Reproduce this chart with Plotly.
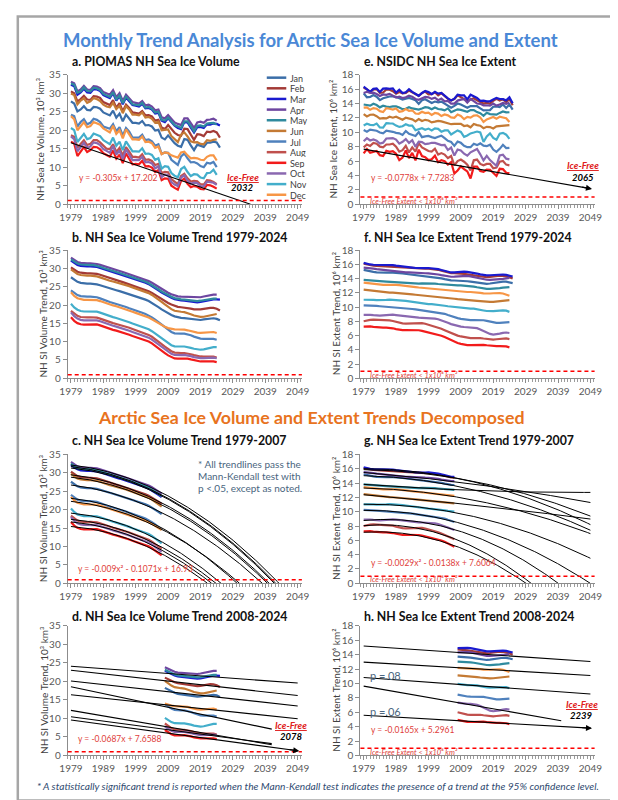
import numpy as np
import plotly.graph_objects as go

# ---------------- data (read/estimated from the picture) ----------------
MONTHS = ["Jan", "Feb", "Mar", "Apr", "May", "Jun", "Jul", "Aug", "Sep", "Oct", "Nov", "Dec"]
COLORS = ["#3B6EA8", "#A33A36", "#1A1ACF", "#6E46A0", "#2F8A9E", "#C47A34",
          "#4F81BD", "#C0504D", "#F21B1B", "#8A68B0", "#43AECB", "#F79646"]
FIRST_YEAR = 1979
TICK_YEARS = [1979, 1989, 1999, 2009, 2019, 2029, 2039, 2049]

# PIOMAS volume, 10^3 km^3 (Jan-Mar include 2025)
VOL_JAN = [27.8,27.2,25.1,25.6,26.5,25.5,25.4,26.3,26.2,25.8, 24.8,24.5,24.0,25.3,23.4,24.5,22.4,24.2,23.2,22.0,
           22.0,21.8,22.5,21.3,21.4,21.0,19.9,20.1,18.0,17.5, 18.6,17.5,16.5,15.8,15.5,17.6,17.4,15.9,14.6,16.1,
           15.9,15.5,16.6,16.6,16.9,16.7,15.3]
VOL_FEB = [30.5,30.0,27.8,28.4,29.3,28.3,28.2,29.2,29.1,28.7, 27.6,27.3,26.8,28.1,26.1,27.3,25.1,26.9,26.0,24.8,
           24.7,24.5,25.2,24.0,24.1,23.7,22.6,22.8,20.7,20.3, 21.4,20.3,19.3,18.7,18.5,20.4,20.3,18.8,17.4,18.9,
           18.8,18.4,19.6,19.5,19.8,19.4,18.0]
VOL_MAR = [32.3,31.9,29.6,30.2,31.2,30.2,30.1,31.1,31.0,30.6, 29.5,29.2,28.7,30.0,28.0,29.2,27.0,28.8,27.9,26.8,
           26.6,26.4,27.1,25.9,26.0,25.6,24.5,24.7,22.6,22.2, 23.2,22.2,21.2,20.6,20.3,22.2,22.1,20.7,19.4,20.8,
           20.9,20.6,21.6,21.5,21.8,21.7,21.3]
VOL_APR = [33.1,32.7,30.5,31.0,32.0,31.0,30.9,31.9,31.8,31.4, 30.3,30.0,29.6,30.8,28.9,30.0,27.9,29.6,28.7,27.6,
           27.4,27.2,27.9,26.7,26.9,26.4,25.4,25.6,23.5,23.2, 24.1,23.1,22.1,21.7,21.4,23.2,23.2,21.9,20.6,22.1,
           22.3,22.0,22.8,22.9,23.1,22.6]
VOL_MAY = [32.6,32.3,30.1,30.5,31.6,30.6,30.5,31.5,31.3,30.9, 29.8,29.4,29.0,30.3,28.4,29.4,27.3,29.1,28.2,27.0,
           26.9,26.7,27.4,26.1,26.3,25.8,24.8,25.0,22.8,22.6, 23.4,22.4,21.4,21.0,20.6,22.4,22.4,21.1,19.7,21.2,
           21.3,21.0,21.8,21.9,22.0,21.5]
VOL_JUN = [29.9,29.5,27.0,28.0,28.6,27.4,27.8,28.7,28.4,27.9, 26.9,26.4,26.2,27.4,25.7,26.6,24.6,26.5,25.6,24.2,
           24.2,24.0,24.8,23.4,23.6,23.1,22.0,22.3,20.0,20.2, 20.2,18.4,17.5,16.8,18.8,19.4,18.3,17.0,16.7,16.8,
           16.3,16.2,17.3,17.1,17.4,17.5]
VOL_JUL = [24.2,23.8,21.0,22.2,23.0,21.6,22.0,23.1,22.8,22.2, 21.0,20.6,20.4,21.6,19.7,20.8,18.5,20.6,19.6,18.0,
           18.1,18.0,18.8,17.3,17.5,17.0,15.8,16.2,13.6,14.0, 13.9,12.0,11.3,10.6,12.9,13.7,12.4,11.3,11.4,11.0,
           10.3,10.0,11.2,11.0,11.4,10.0]
VOL_AUG = [18.6,18.2,15.3,16.4,17.3,16.0,16.3,17.3,17.3,16.7, 15.7,15.0,14.9,16.2,14.1,15.2,13.1,15.4,14.2,12.8,
           12.8,12.6,13.5,12.0,12.1,11.7,10.6,10.9,8.4,8.7, 8.6,6.8,6.1,5.4,7.6,8.2,7.0,6.1,6.3,6.2,
           5.4,5.3,6.5,6.4,6.0,5.4]
VOL_SEP = [16.9,16.4,13.0,14.2,15.4,14.1,14.6,15.5,15.4,14.8, 13.8,13.3,12.8,14.5,12.3,13.4,11.1,13.7,12.2,10.8,
           10.9,10.8,11.7,10.2,10.3,9.9,8.7,9.2,6.5,7.0, 6.9,5.0,4.4,3.9,6.3,6.9,5.5,4.6,4.9,4.7,
           4.1,4.0,5.2,5.1,4.7,4.2]
VOL_OCT = [18.3,17.6,14.3,15.4,16.6,15.2,15.6,16.7,16.5,16.0, 14.9,14.4,13.9,15.7,13.4,14.5,12.2,14.8,13.3,11.9,
           12.0,11.9,12.8,11.3,11.4,11.0,9.7,10.2,7.3,8.0, 7.8,6.0,5.3,4.9,7.2,7.8,6.4,5.5,5.8,5.7,
           4.9,4.8,6.1,6.0,5.8,5.2]
VOL_NOV = [20.6,20.0,16.8,17.8,19.0,17.6,17.9,19.1,18.8,18.4, 17.3,16.8,16.2,18.0,15.8,16.9,14.6,17.0,15.6,14.3,
           14.3,14.2,15.1,13.6,13.7,13.3,12.0,12.4,9.6,10.3, 10.1,8.4,7.7,7.3,9.5,10.1,8.7,7.6,8.1,8.0,
           7.2,7.0,8.4,8.5,9.3,7.9]
VOL_DEC = [23.8,23.0,20.0,21.0,22.2,20.8,21.1,22.2,21.9,21.5, 20.5,20.0,19.4,21.2,19.0,20.0,17.8,20.2,18.8,17.5,
           17.5,17.4,18.3,16.8,16.9,16.5,15.2,15.6,13.5,14.0, 13.8,13.2,12.9,12.6,14.0,14.2,13.2,12.4,12.5,12.4,
           12.0,11.9,12.8,13.2,13.2,11.8]

# NSIDC extent, 10^6 km^2 (Jan-Mar include 2025)
EXT_JAN = [15.41,14.86,14.91,15.18,14.94,14.47,14.72,14.89,14.97,14.98, 14.91,14.73,14.54,14.67,14.78,14.64,14.46,13.94,14.44,14.59,
           14.27,14.07,14.27,14.17,14.25,13.94,13.69,13.40,13.66,13.99, 13.85,13.64,13.41,13.65,13.67,13.62,13.33,13.05,13.06,13.08,
           13.55,13.59,13.51,13.87,13.38,13.86,13.15]
EXT_FEB = [16.18,15.96,15.60,15.97,16.00,15.48,15.52,15.94,15.91,15.71, 15.36,15.60,15.41,15.47,15.79,15.57,15.33,15.06,15.44,15.65,
           15.28,15.30,15.56,15.13,15.44,15.02,14.64,14.40,14.61,15.13, 14.87,14.65,14.36,14.56,14.72,14.44,14.16,14.00,14.12,13.95,
           14.39,14.64,14.42,14.58,14.20,14.61,13.75]
EXT_MAR = [16.34,16.04,15.63,16.04,16.09,15.61,16.06,16.11,16.05,16.11, 15.50,15.90,15.44,15.55,15.97,15.62,15.35,15.07,15.46,15.74,
           15.58,15.31,15.63,15.37,15.48,15.04,14.71,14.43,14.66,15.22, 15.12,15.14,14.56,15.21,15.04,14.76,14.37,14.40,14.30,14.30,
           14.55,14.78,14.62,14.60,14.43,14.87,14.04]
EXT_APR = [15.45,15.62,15.46,15.51,15.32,15.04,15.26,15.21,15.34,15.09, 14.83,14.96,14.76,14.86,15.07,14.95,14.63,14.52,14.73,14.91,
           14.86,14.64,14.80,14.46,14.68,14.31,14.35,13.99,13.99,14.40, 14.53,14.61,14.12,14.63,14.34,13.99,13.95,13.74,13.75,13.69,
           13.99,13.71,13.86,14.07,13.94,14.12]
EXT_MAY = [13.86,13.73,13.70,13.96,13.78,13.46,13.68,13.57,13.51,13.59, 13.60,13.43,13.21,13.26,13.49,13.31,13.28,13.15,13.30,13.48,
           13.42,13.19,13.45,13.23,13.18,13.04,13.32,12.78,13.00,13.19, 13.11,12.99,12.85,13.08,13.09,12.80,12.64,12.28,12.72,12.52,
           12.45,12.44,12.69,12.89,12.76,12.78]
EXT_JUN = [12.53,12.20,12.43,12.46,12.23,11.89,11.96,11.93,12.16,12.02, 12.15,11.91,11.75,12.01,11.90,11.79,11.52,11.84,11.56,11.73,
           11.63,11.37,11.47,11.59,11.51,11.39,11.21,11.12,11.16,11.20, 11.18,10.87,10.94,10.69,11.14,10.99,10.91,10.57,10.75,10.72,
           10.52,10.81,10.85,10.88,10.89,10.98]
EXT_JUL = [10.31,10.08,10.37,10.33,10.21,9.97,9.85,10.23,10.17,10.06, 9.91,9.85,9.63,10.17,9.78,9.67,9.48,10.02,9.32,9.42,
           9.48,9.32,9.19,9.37,9.53,9.17,8.81,8.65,8.11,8.70, 8.53,8.13,7.92,7.93,8.40,8.21,8.45,8.14,8.06,8.27,
           7.59,7.28,7.69,8.25,7.79,7.84]
EXT_AUG = [7.9,8.3,8.1,8.5,8.4,8.0,7.9,8.3,8.3,8.4, 8.0,7.3,7.5,8.1,7.2,7.9,7.3,8.5,7.9,7.6,
           7.4,7.3,7.7,6.9,7.1,6.9,6.4,6.7,5.4,6.0, 6.2,5.9,5.5,4.7,6.1,6.2,5.6,5.4,5.6,5.6,
           5.0,5.1,5.9,6.0,5.5,5.4]
EXT_SEP = [7.05,7.67,7.14,7.30,7.39,6.81,6.70,7.41,7.28,7.37, 7.01,6.14,6.47,7.47,6.40,7.14,6.08,7.58,6.69,6.54,
           6.12,6.25,6.73,5.83,6.12,5.98,5.50,5.86,4.27,4.69, 5.26,4.87,4.56,3.57,5.21,5.22,4.62,4.51,4.80,4.79,
           4.36,3.92,4.92,4.87,4.37,4.28]
EXT_OCT = [8.75,9.18,8.86,9.00,8.84,8.44,8.55,9.13,9.16,9.19, 8.98,8.41,8.68,9.05,8.52,8.89,7.97,8.68,8.64,8.35,
           8.41,8.54,8.52,8.37,8.21,8.23,7.53,7.87,6.76,7.60, 7.47,7.02,6.74,7.21,7.45,7.67,6.93,6.08,6.71,6.13,
           5.73,5.33,6.77,6.87,6.33,6.23]
EXT_NOV = [10.94,11.18,11.03,10.99,11.21,10.68,10.64,11.28,11.24,11.22, 10.93,10.74,10.84,11.10,10.92,10.92,10.28,10.41,10.56,10.35,
           10.51,10.25,10.55,10.48,10.08,10.25,10.26,9.69,10.02,10.26, 10.05,9.37,9.55,9.84,9.96,10.10,9.98,8.65,9.42,9.84,
           9.22,8.96,9.81,9.91,9.66,9.08]
EXT_DEC = [13.42,13.47,13.12,13.36,13.27,12.93,12.80,13.35,13.27,13.16, 13.31,12.85,12.93,13.22,12.99,13.05,12.61,12.57,12.85,12.66,
           12.74,12.42,12.68,12.59,12.25,12.47,12.35,12.07,12.01,12.46, 12.27,11.82,12.13,12.03,12.31,12.36,12.06,11.43,11.78,11.92,
           12.11,11.87,12.16,12.05,11.94,11.43]

VOLUME = [VOL_JAN, VOL_FEB, VOL_MAR, VOL_APR, VOL_MAY, VOL_JUN, VOL_JUL, VOL_AUG, VOL_SEP, VOL_OCT, VOL_NOV, VOL_DEC]
EXTENT = [EXT_JAN, EXT_FEB, EXT_MAR, EXT_APR, EXT_MAY, EXT_JUN, EXT_JUL, EXT_AUG, EXT_SEP, EXT_OCT, EXT_NOV, EXT_DEC]

SPLIT_YEAR = 2007      # end of first period (c, g)
LAST_FORECAST = 2049
D_FIT_MONTHS = ["May", "Feb", "Jan", "Dec", "Jul", "Oct", "Aug", "Sep"]
D_FIT_END = [2049, 2049, 2049, 2049, 2041, 2041, 2041, 2049]
H_FIT_MONTHS = ["Apr", "Dec", "Nov", "Oct", "Sep"]
H_FIT_END = [2049, 2049, 2049, 2040, 2049]

# ---------------- helpers ----------------
W, H = 618, 800
FONT = "Lato"


def px(xp):
    return xp / W


def py(yp):
    return 1 - yp / H


def years_of(s):
    return np.arange(FIRST_YEAR, FIRST_YEAR + len(s))


def smooth(y, sigma=2.0):
    y = np.asarray(y, float)
    t = np.arange(len(y))
    out = []
    for i in range(len(y)):
        w = np.exp(-0.5 * ((t - i) / sigma) ** 2)
        sw = w.sum()
        mt = (w * t).sum() / sw
        my = (w * y).sum() / sw
        b = (w * (t - mt) * (y - my)).sum() / (w * (t - mt) ** 2).sum()
        out.append(my + b * (i - mt))
    return np.array(out)


fig = go.Figure()

PANELS = {"a": ("x", "y"), "e": ("x2", "y2"), "b": ("x3", "y3"), "f": ("x4", "y4"),
          "c": ("x5", "y5"), "g": ("x6", "y6"), "d": ("x7", "y7"), "h": ("x8", "y8")}
ROWS = [(60.7, 192.3), (239.0, 369.3), (446.7, 577.7), (621.0, 752.7)]
COLS = [(53.0, 293.0), (353.0, 593.0)]
LAYOUT_POS = {"a": (0, 0), "e": (0, 1), "b": (1, 0), "f": (1, 1),
              "c": (2, 0), "g": (2, 1), "d": (3, 0), "h": (3, 1)}
IS_EXTENT = {"a": False, "b": False, "c": False, "d": False, "e": True, "f": True, "g": True, "h": True}


def line(panel, xs, ys, color, width):
    xa, ya = PANELS[panel]
    fig.add_trace(go.Scatter(x=list(xs), y=list(ys), mode="lines", line=dict(color=color, width=width),
                             xaxis=xa, yaxis=ya, showlegend=False, hoverinfo="skip"))


annotations = []
shapes = []


def text(panel, x, y, t, size=9, color="#E0403A", xanchor="left", **kw):
    xa, ya = PANELS[panel]
    annotations.append(dict(x=x, y=y, xref=xa, yref=ya, text=t, showarrow=False, xanchor=xanchor,
                            yanchor="middle", font=dict(family=FONT, size=size, color=color), **kw))


def arrow(panel, x0, y0, x1, y1):
    xa, ya = PANELS[panel]
    annotations.append(dict(x=x1, y=y1, ax=x0, ay=y0, xref=xa, yref=ya, axref=xa, ayref=ya, text="",
                            showarrow=True, arrowhead=2, arrowsize=1.1, arrowwidth=1.1, arrowcolor="#000000"))


# ---------------- a. raw volume ----------------
for i, m in enumerate(MONTHS):
    line("a", years_of(VOLUME[i]), VOLUME[i], COLORS[i], 2.2)
sep = np.array(VOL_SEP)
t = np.arange(1, len(sep) + 1)
k, c0 = np.polyfit(t, sep, 1)
t_zero = -c0 / k
line("a", [FIRST_YEAR, FIRST_YEAR - 1 + t_zero], [k + c0, 0], "#000000", 1.1)

# ---------------- e. raw extent ----------------
for i, m in enumerate(MONTHS):
    line("e", years_of(EXTENT[i]), EXTENT[i], COLORS[i], 2.2)
sep = np.array(EXT_SEP)
t = np.arange(1, len(sep) + 1)
k, c0 = np.polyfit(t, sep, 1)
tend = LAST_FORECAST - FIRST_YEAR + 1
line("e", [FIRST_YEAR, LAST_FORECAST], [k + c0, k * tend + c0], "#000000", 1.1)
arrow("e", LAST_FORECAST - 3, k * (tend - 3) + c0, LAST_FORECAST + 0.5, k * (tend + 0.5) + c0)

# ---------------- b / f. smoothed trend ----------------
SMOOTH_V = [smooth(s) for s in VOLUME]
SMOOTH_E = [smooth(s) for s in EXTENT]
for i in range(12):
    line("b", years_of(VOLUME[i]), SMOOTH_V[i], COLORS[i], 2.2)
    line("f", years_of(EXTENT[i]), SMOOTH_E[i], COLORS[i], 2.2)

# ---------------- c / g. 1979-2007 with quadratic trendlines ----------------
n1 = SPLIT_YEAR - FIRST_YEAR + 1
for panel, smooths, raws in (("c", SMOOTH_V, VOLUME), ("g", SMOOTH_E, EXTENT)):
    for i in range(12):
        s = smooths[i]
        line(panel, years_of(s)[:n1], s[:n1], COLORS[i], 2.2)
    for i in range(12):
        r = np.asarray(raws[i], float)
        tt = np.arange(1, n1 + 1)
        p = np.polyfit(tt, r[:n1], 2)
        roots = [q.real for q in np.roots(p) if abs(q.imag) < 1e-9 and q.real > n1]
        t_last = min([LAST_FORECAST - FIRST_YEAR + 1] + roots)
        tg = np.linspace(1, t_last, 160)
        line(panel, FIRST_YEAR - 1 + tg, np.clip(np.polyval(p, tg), 0, None), "#000000", 1.0)

# ---------------- d / h. 2008-2024 with linear trendlines ----------------
for panel, smooths, fit_m, fit_end in (("d", SMOOTH_V, D_FIT_MONTHS, D_FIT_END),
                                       ("h", SMOOTH_E, H_FIT_MONTHS, H_FIT_END)):
    for i in range(12):
        s = smooths[i]
        line(panel, years_of(s)[n1:], s[n1:], COLORS[i], 2.2)
    for m, end in zip(fit_m, fit_end):
        i = MONTHS.index(m)
        s = smooths[i]
        tt = np.arange(1, len(s) + 1)
        p = np.polyfit(tt[n1:], s[n1:], 1)
        te = end - FIRST_YEAR + 1
        line(panel, [FIRST_YEAR, end], [np.polyval(p, 1), np.polyval(p, te)], "#000000", 1.1)
        if m == "Sep":
            arrow(panel, end - 3, np.polyval(p, te - 3), end + 0.5, np.polyval(p, te + 0.5))

# ---------------- axes ----------------
layout_axes = {}
for panel, (xa, ya) in PANELS.items():
    r, c = LAYOUT_POS[panel]
    top, bot = ROWS[r]
    left, right = COLS[c]
    xkey = "xaxis" + xa[1:]
    ykey = "yaxis" + ya[1:]
    layout_axes[xkey] = dict(
        domain=[px(left), px(right)], anchor=ya, range=[1978.0, 2050.3],
        tickmode="array", tickvals=TICK_YEARS, ticks="outside", ticklen=4, tickcolor="#8C8C8C",
        showline=True, linecolor="#8C8C8C", linewidth=1, showgrid=False, zeroline=False,
        tickfont=dict(family=FONT, size=10, color="#595959"),
        minor=dict(tickmode="linear", tick0=1979, dtick=1, ticks="outside", ticklen=3,
                   tickcolor="#9C9C9C", showgrid=False))
    ymax, dt = (18, 2) if IS_EXTENT[panel] else (35, 5)
    layout_axes[ykey] = dict(
        domain=[py(bot), py(top)], anchor=xa, range=[0, ymax], dtick=dt, tick0=0,
        ticks="outside", ticklen=4, tickcolor="#8C8C8C", showline=True, linecolor="#8C8C8C",
        linewidth=1, showgrid=False, zeroline=False,
        tickfont=dict(family=FONT, size=10, color="#595959"))
    # ice-free threshold
    shapes.append(dict(type="line", xref=xa + " domain", yref=ya, x0=0, x1=1, y0=1, y1=1,
                       line=dict(color="#FF0000", width=1.5, dash="4px,3px")))

# ---------------- titles ----------------
PANEL_TITLES = {
    "a": "a. PIOMAS NH Sea Ice Volume", "e": "e. NSIDC NH Sea Ice Extent",
    "b": "b. NH Sea Ice Volume Trend 1979-2024", "f": "f. NH Sea Ice Extent Trend 1979-2024",
    "c": "c. NH Sea Ice Volume Trend 1979-2007", "g": "g. NH Sea Ice Extent Trend 1979-2007",
    "d": "d. NH Sea Ice Volume Trend 2008-2024", "h": "h. NH Sea Ice Extent Trend 2008-2024",
}
TITLE_Y = [47.5, 226.0, 433.0, 611.7]
YTITLES = {
    "a": "NH Sea Ice Volume, 10³ km³", "e": "NH Sea Ice Extent, 10⁶ km²",
    "b": "NH SI Volume Trend, 10³ km³", "f": "NH SI Extent Trend, 10⁶ km²",
    "c": "NH SI Volume Trend, 10³ km³", "g": "NH SI Extent Trend, 10⁶ km²",
    "d": "NH SI Volume Trend, 10³ km³", "h": "NH SI Extent Trend, 10⁶ km²",
}
for panel in PANELS:
    r, c = LAYOUT_POS[panel]
    x0 = 55 + 300 * c
    annotations.append(dict(x=px(x0), y=py(TITLE_Y[r]), xref="paper", yref="paper", text="<b>%s</b>" % PANEL_TITLES[panel],
                            showarrow=False, xanchor="left", yanchor="middle",
                            font=dict(family=FONT, size=12.3, color="#111111")))
    top, bot = ROWS[r]
    ytx = (25 if r == 0 else 28) + 300 * c
    annotations.append(dict(x=px(ytx), y=py((top + bot) / 2), xref="paper", yref="paper", text=YTITLES[panel],
                            showarrow=False, textangle=-90, xanchor="center", yanchor="middle",
                            font=dict(family=FONT, size=10, color="#404040")))

annotations.append(dict(x=px(302), y=py(25.5), xref="paper", yref="paper",
                        text="<b>Monthly Trend Analysis for Arctic Sea Ice Volume and Extent</b>", showarrow=False,
                        xanchor="center", yanchor="middle", font=dict(family=FONT, size=18.5, color="#4A88D6")))
annotations.append(dict(x=px(302), y=py(409), xref="paper", yref="paper",
                        text="<b>Arctic Sea Ice Volume and Extent Trends Decomposed</b>", showarrow=False,
                        xanchor="center", yanchor="middle", font=dict(family=FONT, size=17.8, color="#E8731E")))
annotations.append(dict(x=px(309), y=py(783.5), xref="paper", yref="paper",
                        text="<i>* A statistically significant trend is reported when the Mann-Kendall test indicates the presence of a trend at the 95% confidence level.</i>",
                        showarrow=False, xanchor="center", yanchor="middle",
                        font=dict(family=FONT, size=10.2, color="#2F4A70")))

# ---------------- legend (panel a) ----------------
for i, m in enumerate(MONTHS):
    yy = 63.7 + i * 10.82
    shapes.append(dict(type="line", xref="paper", yref="paper", x0=px(257), x1=px(277), y0=py(yy), y1=py(yy),
                       line=dict(color=COLORS[i], width=2.5)))
    annotations.append(dict(x=px(279.5), y=py(yy), xref="paper", yref="paper", text=m, showarrow=False,
                            xanchor="left", yanchor="middle", height=10, borderpad=0,
                            font=dict(family=FONT, size=9, color="#404040")))

# ---------------- in-panel texts ----------------
RED = "#E0403A"
ICE_EXT = "<i>Ice-Free Extent < 1x10⁶ km²</i>"
text("a", 1981, 7.1, "y = -0.305x + 17.202", 8.5, RED)
text("a", 2032, 7.3, "<u><b><i>Ice-Free</i></b></u>", 9.5, "#E02020", "center")
text("a", 2032, 4.4, "<b><i>2032</i></b>", 9.5, "#000000", "center")

text("e", 1980.7, 3.7, "y = -0.0778x + 7.7283", 8.5, RED)
text("e", 2046.6, 5.4, "<u><b><i>Ice-Free</i></b></u>", 9.5, "#E02020", "center")
text("e", 2046.6, 3.7, "<b><i>2065</i></b>", 9.5, "#000000", "center")
text("e", 1980.3, 0.42, ICE_EXT, 7.5, RED)
text("f", 1980.3, 0.42, ICE_EXT, 7.5, RED)

NOTE_COLOR = "#4A6680"
text("c", 2017.5, 32.5, "* All trendlines pass the", 10, NOTE_COLOR)
text("c", 2017.5, 29.1, "Mann-Kendall test with", 10, NOTE_COLOR)
text("c", 2017.5, 25.8, "p <.05, except as noted.", 10, NOTE_COLOR)
text("c", 1980.7, 4.0, "y = -0.009x² - 0.1071x + 16.93", 8.5, RED)

text("d", 1980.7, 4.5, "y = -0.0687x + 7.6588", 8.5, RED)
text("d", 2047, 8.1, "<u><b><i>Ice-Free</i></b></u>", 9.5, "#E02020", "center")
text("d", 2047, 5.15, "<b><i>2078</i></b>", 9.5, "#000000", "center")

text("g", 1980.7, 2.9, "y = -0.0029x² - 0.0138x + 7.6064", 8.5, RED)
text("g", 1980.3, 0.5, ICE_EXT, 7.5, RED)

text("h", 1980.2, 11.07, "p =.08", 11, NOTE_COLOR)
text("h", 1980.2, 6.07, "p =.06", 11, NOTE_COLOR)
text("h", 1980.7, 3.55, "y = -0.0165x + 5.2961", 8.5, RED)
text("h", 2046.3, 7.07, "<u><b><i>Ice-Free</i></b></u>", 9.5, "#E02020", "center")
text("h", 2046.3, 5.5, "<b><i>2239</i></b>", 9.5, "#000000", "center")
text("h", 1980.3, 0.4, ICE_EXT, 7.5, RED)

# frame
shapes.append(dict(type="rect", xref="paper", yref="paper", x0=0.003, x1=0.997, y0=0.002, y1=0.998,
                   line=dict(color="#A6A6A6", width=2.5)))

fig.update_layout(width=W, height=H, margin=dict(l=0, r=0, t=0, b=0),
                  paper_bgcolor="#FFFFFF", plot_bgcolor="#FFFFFF", showlegend=False,
                  annotations=annotations, shapes=shapes, **layout_axes)
fig.write_html("out.html")
